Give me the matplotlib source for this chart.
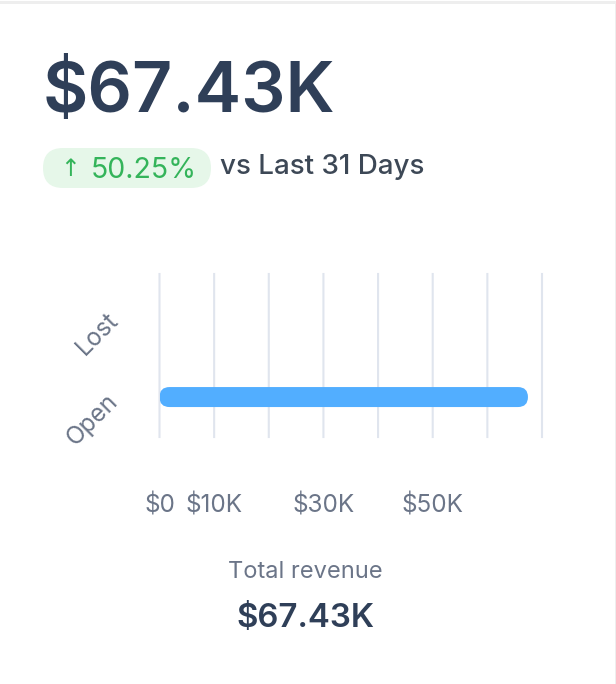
import matplotlib
matplotlib.use('Agg')
import matplotlib.pyplot as plt
from matplotlib.patches import FancyBboxPatch, Rectangle

plt.rcParams['font.family'] = ['Inter', 'DejaVu Sans']

# data
categories = ['Open', 'Lost']
revenue = [67430, 0]
x_ticks = [0, 10000, 20000, 30000, 40000, 50000, 60000, 70000]
x_tick_labels = ['$0', '$10K', '', '$30K', '', '$50K', '', '']

W, H = 616, 684
DARK = '#2f3f58'
SLATE = '#3d4856'
GREY = '#6b7588'
GRID = '#e0e5ee'
BLUE = '#52aeff'
GREEN = '#34b45a'

fig = plt.figure(figsize=(W / 100, H / 100), dpi=100, facecolor='white')

# overlay in pixel coords for the card text
bg = fig.add_axes([0, 0, 1, 1])
bg.set_xlim(0, W)
bg.set_ylim(H, 0)
bg.axis('off')
bg.add_patch(Rectangle((0, 1), W, 2.5, color='#eeeeee', lw=0))
bg.add_patch(Rectangle((614.5, 1), 1.5, H, color='#eeeeee', lw=0))

bg.text(43, 93, '$67.43K', fontsize=50.3, fontweight='semibold', color=DARK, ha='left', va='center')
bg.add_patch(FancyBboxPatch((43, 148), 168, 40, boxstyle='round,pad=0,rounding_size=20',
                            fc='#e6f7e9', ec='none'))
bg.text(70, 169, '↑', fontsize=17, color=GREEN, ha='center', va='center', family=['DejaVu Sans'])
bg.text(91, 170, '50.25%', fontsize=20.5, color=GREEN, ha='left', va='center')
bg.text(220, 167, 'vs Last 31 Days', fontsize=20, fontweight='medium', color=SLATE, ha='left', va='center')
bg.text(305.5, 572, 'Total revenue', fontsize=17, color=GREY, ha='center', va='center')
bg.text(305.5, 618, '$67.43K', fontsize=23.8, fontweight='semibold', color=DARK, ha='center', va='center')

# chart
left, right, top, bottom = 159.5, 542, 274, 437
ax = fig.add_axes([left / W, 1 - bottom / H, (right - left) / W, (bottom - top) / H])
ax.patch.set_alpha(0)
ax.set_xlim(x_ticks[0], x_ticks[-1])
ax.set_ylim(-0.5, 1.5)
for s in ax.spines.values():
    s.set_visible(False)

ax.set_xticks(x_ticks)
ax.set_xticklabels(x_tick_labels, fontsize=17.5, color=GREY)
ax.tick_params(axis='x', length=0, pad=41)
ax.set_yticks(range(len(categories)))
ax.set_yticklabels(categories, fontsize=17.5, color=GREY, rotation=45, ha='right',
                   rotation_mode='anchor')
ax.tick_params(axis='y', length=0, pad=33.5)
ax.grid(axis='x', color=GRID, lw=1.5, snap=False, clip_on=False)
ax.set_axisbelow(True)

# rounded bars, sized from the axis scale
px_x = (x_ticks[-1] - x_ticks[0]) / (right - left)
px_y = 2 / (bottom - top)
bar_h = 20 * px_y
for i, v in enumerate(revenue):
    if v > 0:
        ax.add_patch(FancyBboxPatch((0, i - bar_h / 2 - 0.8 * px_y), v, bar_h,
                                    boxstyle=f'round,pad=0,rounding_size={10 * px_x}',
                                    mutation_aspect=px_y / px_x, fc=BLUE, ec='none', zorder=3))

fig.savefig('out.png', dpi=100)
